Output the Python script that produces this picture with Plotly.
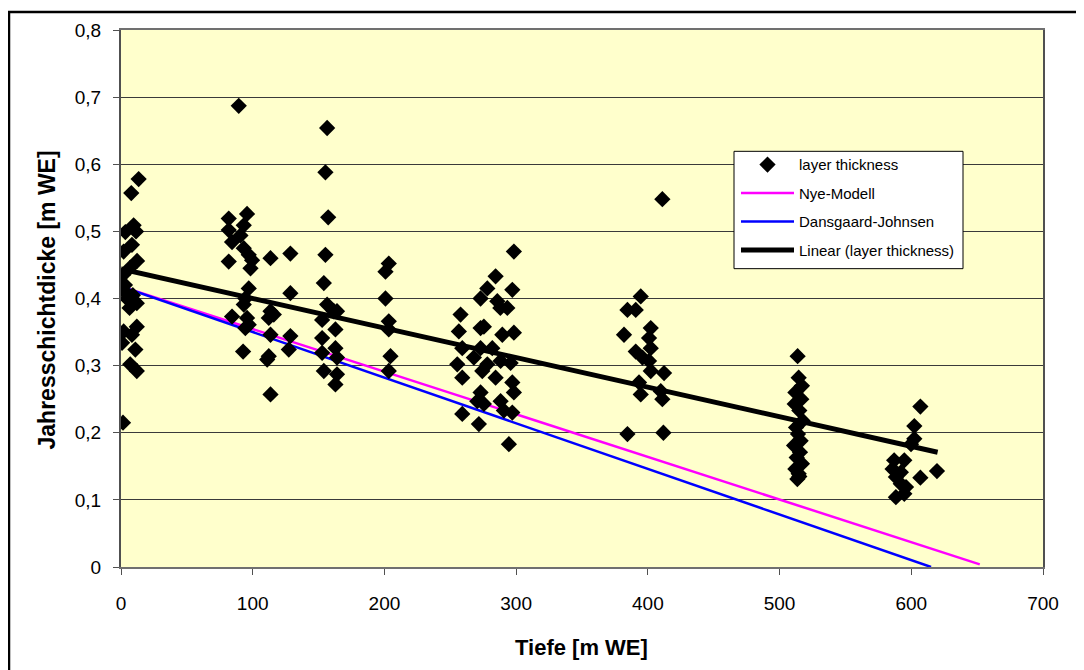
import plotly.graph_objects as go

# ---- data ----
depth_0 = [1.5, 13.4, 7.8, 3.3, 9.6, 11.4, 2.0, 8.3, 12.2, 1.5, 7.0, 1.5, 4.5, 12.0, 6.5,
           2.0, 12.0, 8.3, 0.8, 10.9, 7.0, 12.0, 3.0, 9.0]
thick_0 = [0.215, 0.578, 0.557, 0.499, 0.509, 0.500, 0.470, 0.480, 0.456, 0.435, 0.446, 0.413,
           0.400, 0.393, 0.386, 0.351, 0.358, 0.346, 0.334, 0.324, 0.302, 0.292, 0.420, 0.405]

depth_90 = [89.4, 81.8, 81.8, 95.7, 93.2, 84.3, 90.7, 93.2, 97.0, 99.5, 81.8, 98.3, 97.0, 94.4,
            84.3, 93.2, 95.7, 97.0, 94.4, 92.7,
            113.5, 128.6, 128.6, 113.5, 116.0, 112.2, 113.5, 112.2, 111.0, 113.5, 128.6, 127.4]
thick_90 = [0.687, 0.519, 0.502, 0.526, 0.509, 0.484, 0.494, 0.475, 0.465, 0.457, 0.455, 0.445,
            0.415, 0.400, 0.373, 0.391, 0.371, 0.361, 0.356, 0.321,
            0.460, 0.467, 0.408, 0.381, 0.376, 0.371, 0.346, 0.314, 0.309, 0.257, 0.344, 0.324]

depth_160 = [156.5, 155.2, 157.3, 155.2, 154.0, 156.5, 161.6, 164.0, 152.7, 162.8, 152.7, 162.8,
             152.7, 164.0, 154.0, 164.0, 162.8,
             203.3, 200.8, 200.8, 203.3, 203.3, 204.6, 203.3]
thick_160 = [0.654, 0.588, 0.521, 0.465, 0.423, 0.391, 0.381, 0.381, 0.368, 0.354, 0.341, 0.326,
             0.319, 0.312, 0.292, 0.287, 0.272,
             0.452, 0.440, 0.400, 0.366, 0.354, 0.314, 0.292]

depth_280 = [298.3, 284.4, 278.1, 297.1, 273.0, 285.7, 293.3, 288.0, 257.8, 256.5, 273.0, 275.5,
             289.5, 298.3, 259.1, 273.0, 281.9, 255.3, 267.9, 278.1, 288.2, 295.8, 259.1, 274.3,
             284.4, 297.1, 298.3, 273.0, 270.5, 288.2, 275.5, 290.7, 297.1, 259.1, 271.7, 294.5]
thick_280 = [0.470, 0.433, 0.415, 0.413, 0.400, 0.396, 0.386, 0.386, 0.376, 0.351, 0.356, 0.358,
             0.346, 0.349, 0.326, 0.326, 0.326, 0.302, 0.312, 0.302, 0.307, 0.304, 0.282, 0.292,
             0.282, 0.275, 0.260, 0.260, 0.247, 0.247, 0.243, 0.233, 0.230, 0.228, 0.213, 0.183]

depth_400 = [411.0, 394.6, 384.5, 390.8, 381.9, 402.2, 400.9, 402.2, 390.8, 395.9, 400.9, 402.2,
             412.3, 393.3, 394.6, 409.8, 411.0, 384.5, 411.8]
thick_400 = [0.548, 0.403, 0.383, 0.383, 0.346, 0.356, 0.341, 0.326, 0.321, 0.312, 0.307, 0.292,
             0.289, 0.275, 0.257, 0.262, 0.250, 0.198, 0.200]

depth_515 = [513.7, 514.5, 517.0, 512.0, 516.5, 511.5, 515.0, 517.5, 512.5, 514.0, 516.0, 511.0,
             515.5, 513.0, 517.0, 512.0, 514.5, 513.5, 515.0]
thick_515 = [0.314, 0.282, 0.270, 0.260, 0.250, 0.243, 0.233, 0.218, 0.208, 0.198, 0.188, 0.181,
             0.171, 0.163, 0.154, 0.146, 0.139, 0.131, 0.135]

depth_600 = [606.9, 602.3, 602.3, 599.8, 619.5, 606.9, 587.0, 594.7, 585.8, 592.1, 588.3, 596.0,
             588.3, 594.7, 592.0]
thick_600 = [0.239, 0.210, 0.191, 0.183, 0.143, 0.133, 0.159, 0.159, 0.146, 0.141, 0.134, 0.119,
             0.104, 0.109, 0.124]

depth = depth_0 + depth_90 + depth_160 + depth_280 + depth_400 + depth_515 + depth_600
thickness = thick_0 + thick_90 + thick_160 + thick_280 + thick_400 + thick_515 + thick_600

nye_depth = [0, 652]
nye_thick = [0.418, 0.004]
dj_depth = [0, 615]
dj_thick = [0.418, 0.0]
trend_depth = [0, 620]
trend_thick = [0.444, 0.171]

x_ticks = [0, 100, 200, 300, 400, 500, 600, 700]
y_ticks = [0, 0.1, 0.2, 0.3, 0.4, 0.5, 0.6, 0.7, 0.8]
y_ticktext = ["0", "0,1", "0,2", "0,3", "0,4", "0,5", "0,6", "0,7", "0,8"]

FONT = "Liberation Sans, Arial, sans-serif"

# the page body adds an 8 px margin; work in figure pixels
O = 8
L, R, T, B = 121 - O, 1043 - O, 27 - O, 567 - O
W, H = 1084 - O, 670 - O
pw, ph = R - L, B - T


def px_x(p):
    return (p - O - L) / pw


def px_y(p):
    return (B - (p - O)) / ph


fig = go.Figure()

fig.add_trace(go.Scatter(
    x=nye_depth, y=nye_thick, mode="lines", name="Nye-Modell",
    line=dict(color="#FF00FF", width=2.5), legendrank=2, legendgroup="b"))
fig.add_trace(go.Scatter(
    x=dj_depth, y=dj_thick, mode="lines", name="Dansgaard-Johnsen",
    line=dict(color="#0000FF", width=2.5), legendrank=3, legendgroup="c"))
fig.add_trace(go.Scatter(
    x=depth, y=thickness, mode="markers", name="layer thickness",
    marker=dict(symbol="diamond", size=12.5, color="black"), legendrank=1, legendgroup="a"))
fig.add_trace(go.Scatter(
    x=trend_depth, y=trend_thick, mode="lines", name="Linear (layer thickness)",
    line=dict(color="black", width=5), legendrank=4, legendgroup="d"))

fig.update_layout(
    width=W, height=H, autosize=False,
    margin=dict(l=L, r=W - R, t=T, b=H - B, pad=0),
    paper_bgcolor="white", plot_bgcolor="#FFFFCC",
    font=dict(family=FONT, size=19, color="black"),
    showlegend=True,
    legend=dict(
        x=px_x(736), y=px_y(146), xanchor="left", yanchor="top",
        bgcolor="rgba(0,0,0,0)", borderwidth=0,
        font=dict(family=FONT, size=15, color="black"),
        itemwidth=53, tracegroupgap=6, traceorder="grouped",
    ),
    xaxis=dict(
        range=[0, 700], tickvals=x_ticks, ticktext=[str(v) for v in x_ticks],
        showgrid=False, zeroline=False,
        showline=True, linecolor="#707070", linewidth=2, mirror=True,
        ticks="outside", ticklen=6, tickcolor="#505050", tickwidth=1,
        tickfont=dict(family=FONT, size=19, color="black"),
        ticklabelstandoff=12,
    ),
    yaxis=dict(
        range=[0, 0.8], tickvals=y_ticks, ticktext=y_ticktext,
        showgrid=True, gridcolor="#3a3a3a", gridwidth=1, zeroline=False,
        showline=True, linecolor="#505050", linewidth=2, mirror=True,
        ticks="outside", ticklen=6, tickcolor="#505050", tickwidth=1,
        tickfont=dict(family=FONT, size=19, color="black"),
        ticklabelstandoff=8,
    ),
    shapes=[
        # legend box
        dict(type="rect", xref="paper", yref="paper",
             x0=px_x(734), x1=px_x(963), y0=px_y(267), y1=px_y(149),
             fillcolor="white", line=dict(color="black", width=1), layer="above"),
        # outer chart frame
        dict(type="rect", xref="paper", yref="paper",
             x0=px_x(9), x1=px_x(1100), y0=px_y(690), y1=px_y(9),
             fillcolor="rgba(0,0,0,0)", line=dict(color="black", width=2.5), layer="above"),
    ],
    annotations=[
        dict(text="<b>Jahresschichtdicke [m WE]</b>", xref="paper", yref="paper",
             x=px_x(47), y=px_y(299), xanchor="center", yanchor="middle",
             textangle=-90, showarrow=False,
             font=dict(family=FONT, size=23, color="black")),
        dict(text="<b>Tiefe [m WE]</b>", xref="paper", yref="paper",
             x=px_x(581), y=px_y(648), xanchor="center", yanchor="middle",
             showarrow=False,
             font=dict(family=FONT, size=22, color="black")),
    ],
)

fig.write_html("out.html")
